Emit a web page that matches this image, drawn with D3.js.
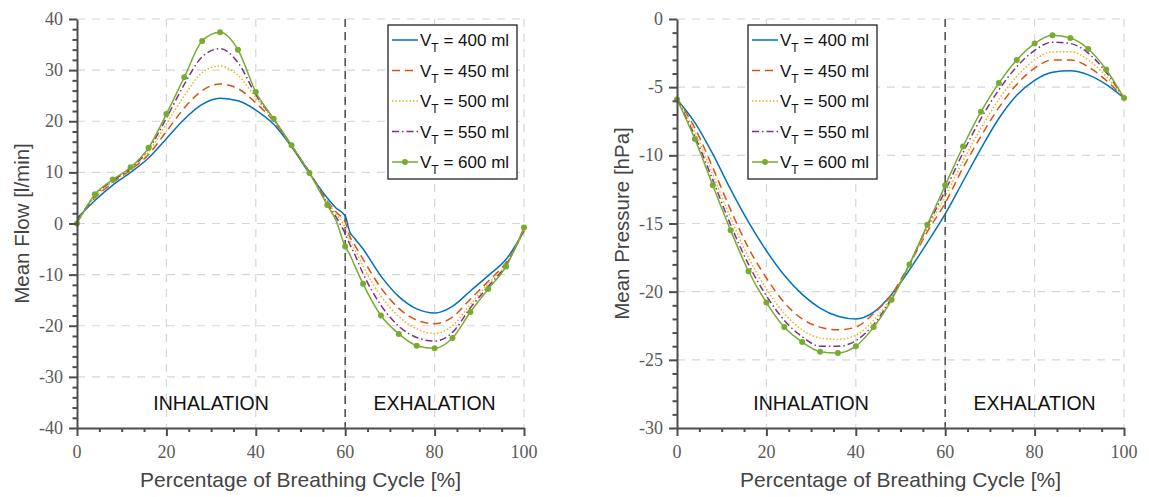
<!DOCTYPE html>
<html>
<head>
<meta charset="utf-8">
<script src="https://cdn.jsdelivr.net/npm/d3@7"></script>
<style>
  body { margin: 0; background: #fff; }
  svg { display: block; }
</style>
</head>
<body>
<svg width="1149" height="497"></svg>
<script>
// percent of breathing cycle, flow panel has extra points around the kink at 60 %
var flowPct = [0, 4, 8, 12, 16, 20, 24, 28, 32, 36, 40, 44, 48, 52, 56, 58, 60, 61, 62, 64, 68, 72, 76, 80, 84, 88, 92, 96, 100];
var pressPct = [0, 4, 8, 12, 16, 20, 24, 28, 32, 36, 40, 44, 48, 52, 56, 60, 64, 68, 72, 76, 80, 84, 88, 92, 96, 100];

var volumes = ['400', '450', '500', '550', '600'];

var flow400 = [1.0, 4.5, 7.5, 10.0, 12.8, 16.6, 20.4, 23.3, 24.5, 24.0, 22.2, 19.4, 15.0, 9.8, 5.0, 3.0, 1.5, -1.6, -2.8, -5.0, -10.3, -14.3, -16.7, -17.5, -16.2, -13.2, -10.2, -7.0, -1.5];
var flow450 = [0.6, 5.0, 8.0, 10.5, 13.5, 18.0, 22.6, 26.0, 27.3, 26.4, 23.6, 20.0, 15.2, 10.0, 4.4, 2.2, 0.3, -2.5, -4.0, -7.0, -12.6, -16.6, -18.9, -19.6, -18.3, -14.8, -11.3, -7.6, -1.5];
var flow500 = [0.4, 5.2, 8.2, 10.7, 14.0, 19.5, 25.0, 29.5, 30.8, 29.0, 24.6, 20.3, 15.2, 10.0, 4.1, 1.8, -0.8, -3.2, -4.8, -8.4, -14.2, -18.2, -20.6, -21.5, -20.0, -15.8, -11.8, -7.9, -1.2];
var flow550 = [0.2, 5.5, 8.4, 10.8, 14.5, 20.6, 27.2, 32.6, 34.2, 31.5, 25.2, 20.4, 15.2, 10.0, 3.9, 1.2, -2.0, -4.0, -5.8, -9.8, -16.0, -20.1, -22.3, -23.0, -21.3, -16.5, -12.3, -8.1, -1.0];
var flow600 = [0.0, 5.7, 8.6, 11.0, 14.8, 21.4, 28.6, 35.7, 37.4, 34.0, 25.7, 20.5, 15.3, 9.9, 3.6, 0.5, -4.5, -6.0, -8.0, -11.8, -18.0, -21.6, -23.9, -24.4, -22.4, -17.3, -12.8, -8.4, -0.8];

var press400 = [-5.9, -7.6, -9.9, -12.5, -14.9, -17.0, -18.8, -20.2, -21.2, -21.8, -22.0, -21.5, -20.2, -18.4, -16.4, -14.3, -11.9, -9.5, -7.3, -5.6, -4.5, -3.9, -3.8, -4.1, -4.8, -5.8];
var press450 = [-5.9, -8.0, -10.9, -14.0, -16.8, -19.0, -20.8, -22.0, -22.6, -22.8, -22.6, -21.6, -20.2, -18.0, -15.6, -13.5, -10.9, -8.6, -6.5, -4.8, -3.6, -3.0, -3.0, -3.5, -4.5, -5.8];
var press500 = [-5.9, -8.3, -11.4, -14.6, -17.5, -19.8, -21.6, -22.8, -23.4, -23.5, -23.2, -22.1, -20.4, -18.0, -15.4, -13.0, -10.4, -8.0, -5.9, -4.2, -3.0, -2.4, -2.4, -3.0, -4.2, -5.8];
var press550 = [-5.9, -8.6, -11.8, -15.1, -18.0, -20.3, -22.1, -23.3, -24.0, -24.0, -23.6, -22.4, -20.5, -18.0, -15.2, -12.6, -9.8, -7.3, -5.2, -3.5, -2.3, -1.7, -1.8, -2.5, -3.9, -5.8];
var press600 = [-5.9, -8.8, -12.2, -15.5, -18.5, -20.8, -22.6, -23.7, -24.4, -24.5, -24.0, -22.6, -20.6, -18.0, -15.1, -12.2, -9.35, -6.8, -4.7, -3.0, -1.8, -1.2, -1.4, -2.2, -3.7, -5.8];

var xTicks = [0, 20, 40, 60, 80, 100];
var flowTicks = [-40, -30, -20, -10, 0, 10, 20, 30, 40];
var pressTicks = [-30, -25, -20, -15, -10, -5, 0];
var phaseLabels = ['INHALATION', 'EXHALATION'];
var phaseAt = [30, 80];
var phaseSplit = 60;

var colors = ['#0072BD', '#D95319', '#EDB120', '#7E2F8E', '#77AC30'];
var dashes = [null, '8,5', '1.5,2', '7,3,1.5,3', null];

var svg = d3.select('svg');
var axisColor = '#4d4d4d';

function drawPanel(p) {
  var x = d3.scaleLinear().domain([0, 100]).range([p.left, p.right]);
  var y = d3.scaleLinear().domain(p.domain).range([p.bottom, p.top]);
  var g = svg.append('g');

  // grid
  g.selectAll('.gx').data(xTicks.slice(1)).enter().append('line')
    .attr('x1', function (d) { return x(d); }).attr('x2', function (d) { return x(d); })
    .attr('y1', p.top).attr('y2', p.bottom)
    .style('stroke', '#d6d6d6').style('stroke-width', 1.2).style('stroke-dasharray', '8,7');
  g.selectAll('.gy').data(p.ticks.slice(1)).enter().append('line')
    .attr('x1', p.left).attr('x2', p.right)
    .attr('y1', function (d) { return y(d); }).attr('y2', function (d) { return y(d); })
    .style('stroke', '#d6d6d6').style('stroke-width', 1.2).style('stroke-dasharray', '8,7');

  // phase divider
  g.append('line')
    .attr('x1', x(phaseSplit)).attr('x2', x(phaseSplit))
    .attr('y1', p.top).attr('y2', p.bottom)
    .style('stroke', '#555').style('stroke-width', 1.6).style('stroke-dasharray', '8,5');

  g.selectAll('.phase').data(phaseLabels).enter().append('text')
    .attr('x', function (d, i) { return x(phaseAt[i]); })
    .attr('y', p.bottom - 18)
    .attr('text-anchor', 'middle')
    .style('font-family', 'Liberation Sans, Arial, sans-serif')
    .style('font-size', '19.5px')
    .style('fill', '#111')
    .text(function (d) { return d; });

  // series
  var line = d3.line().curve(d3.curveMonotoneX);
  p.series.forEach(function (vals, i) {
    var pts = p.pct.map(function (v, k) { return [x(v), y(vals[k])]; });
    g.append('path')
      .attr('d', line(pts))
      .style('fill', 'none')
      .style('stroke', colors[i])
      .style('stroke-width', 1.5)
      .style('stroke-dasharray', dashes[i]);
    if (i === 4) {
      g.selectAll('.mk').data(p.pct.filter(function (v) { return v % 4 === 0; })).enter().append('circle')
        .attr('cx', function (d) { return x(d); })
        .attr('cy', function (d) { return y(vals[p.pct.indexOf(d)]); })
        .attr('r', 3)
        .style('fill', colors[i]);
    }
  });

  // axes
  var xAxis = d3.axisBottom(x).tickValues(d3.range(0, 101, 5)).tickFormat('')
    .tickSize(4).tickSizeOuter(0);
  var gx = g.append('g').attr('transform', 'translate(0,' + p.bottom + ')').call(xAxis);
  gx.selectAll('.tick line').filter(function (d) { return d % 20 === 0; }).attr('y2', 8);
  var gxl = g.append('g').selectAll('text').data(xTicks).enter().append('text')
    .attr('x', function (d) { return x(d); })
    .attr('y', p.bottom + 30)
    .attr('text-anchor', 'middle')
    .text(function (d) { return d; });

  var yAxis = d3.axisLeft(y).tickValues(d3.range(p.domain[0], p.domain[1] + 0.001, p.minor))
    .tickFormat('').tickSize(4.5).tickSizeOuter(0);
  var gy = g.append('g').attr('transform', 'translate(' + p.left + ',0)').call(yAxis);
  gy.selectAll('.tick line').filter(function (d) { return p.ticks.indexOf(d) >= 0; }).attr('x2', -8);
  var gyl = g.append('g').selectAll('text').data(p.ticks).enter().append('text')
    .attr('x', p.left - 14)
    .attr('y', function (d) { return y(d) + 6; })
    .attr('text-anchor', 'end')
    .text(function (d) { return d; });

  [gx, gy].forEach(function (a) {
    a.select('.domain').style('stroke', axisColor).style('stroke-width', 2);
    a.selectAll('.tick line').style('stroke', axisColor).style('stroke-width', 2);
  });
  [gxl, gyl].forEach(function (t) {
    t.style('font-family', 'Liberation Serif, Times New Roman, serif')
      .style('font-size', '18px').style('fill', '#5a5a5a');
  });

  // axis titles
  g.append('text')
    .attr('x', (p.left + p.right) / 2).attr('y', p.bottom + 59)
    .attr('text-anchor', 'middle')
    .style('font-family', 'Liberation Sans, Arial, sans-serif')
    .style('font-size', '21px').style('fill', '#444')
    .text('Percentage of Breathing Cycle [%]');
  g.append('text')
    .attr('transform', 'translate(' + (p.left - 48) + ',' + ((p.top + p.bottom) / 2) + ') rotate(-90)')
    .attr('text-anchor', 'middle')
    .style('font-family', 'Liberation Sans, Arial, sans-serif')
    .style('font-size', '20.5px').style('fill', '#444')
    .text(p.yTitle);

  // legend
  var lg = g.append('g').attr('transform', 'translate(' + p.legendX + ',' + p.legendY + ')');
  lg.append('rect').attr('width', 129).attr('height', 154)
    .style('fill', '#fff').style('stroke', '#222').style('stroke-width', 1.3);
  volumes.forEach(function (v, i) {
    var cy = 15 + i * 30.5;
    lg.append('line').attr('x1', 4).attr('x2', 30).attr('y1', cy).attr('y2', cy)
      .style('stroke', colors[i]).style('stroke-width', 1.5).style('stroke-dasharray', dashes[i]);
    if (i === 4) {
      lg.append('circle').attr('cx', 17).attr('cy', cy).attr('r', 3).style('fill', colors[i]);
    }
    var t = lg.append('text').attr('x', 32).attr('y', cy + 6)
      .style('font-family', 'Liberation Sans, Arial, sans-serif')
      .style('font-size', '17px').style('fill', '#111');
    t.append('tspan').text('V');
    t.append('tspan').attr('dy', 6).style('font-size', '12px').text('T');
    t.append('tspan').attr('dy', -6).text(' = ' + v + ' ml');
  });
}

drawPanel({
  left: 77, right: 524, top: 19, bottom: 428,
  domain: [-40, 40], ticks: flowTicks, minor: 2,
  pct: flowPct, series: [flow400, flow450, flow500, flow550, flow600],
  yTitle: 'Mean Flow [l/min]', legendX: 388, legendY: 25
});
drawPanel({
  left: 677, right: 1124, top: 19, bottom: 428,
  domain: [-30, 0], ticks: pressTicks, minor: 1,
  pct: pressPct, series: [press400, press450, press500, press550, press600],
  yTitle: 'Mean Pressure [hPa]', legendX: 748, legendY: 25
});
</script>
</body>
</html>
